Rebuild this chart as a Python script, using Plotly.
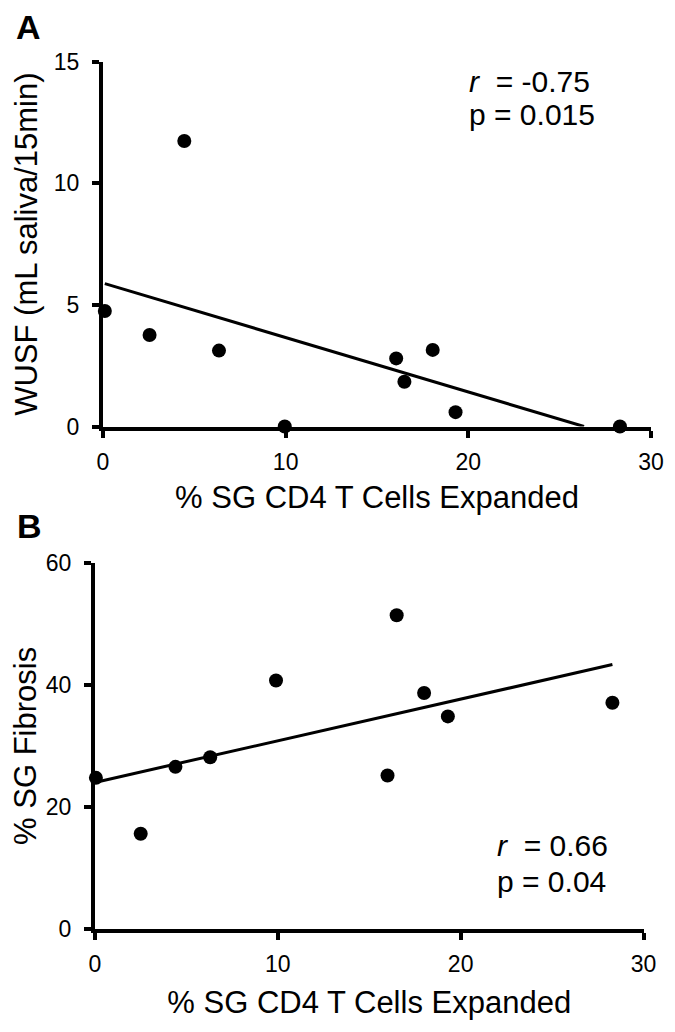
import numpy as np
import plotly.graph_objects as go

# ---------------- data ----------------
cd4_a = [0.1, 2.55, 4.45, 6.35, 9.95, 16.05, 16.5, 18.05, 19.3, 28.3]
wusf = [4.75, 3.76, 11.74, 3.12, 0.0, 2.8, 1.84, 3.15, 0.59, 0.0]

cd4_b = [0.05, 2.5, 4.4, 6.3, 9.9, 16.0, 16.5, 18.0, 19.3, 28.3]
fibrosis = [24.75, 15.57, 26.56, 28.13, 40.75, 25.13, 51.47, 38.69, 34.85, 37.1]

x_ticks = [0, 10, 20, 30]
y_ticks_a = [0, 5, 10, 15]
y_ticks_b = [0, 20, 40, 60]

stats_a = ["<i>r</i>\u00a0\u00a0= -0.75", "p = 0.015"]
stats_b = ["<i>r</i>\u00a0\u00a0= 0.66", "p = 0.04"]

x_title = "% SG CD4 T Cells Expanded"
y_title_a = "WUSF (mL saliva/15min)"
y_title_b = "% SG Fibrosis"

# ---------------- layout ----------------
# the page body has an 8px margin, so the figure is 16px smaller than the window
PAGE_W, PAGE_H = 675, 1032
BODY = 8
W, H = PAGE_W - 2 * BODY, PAGE_H - 2 * BODY
FONT = "Liberation Sans, Arial, sans-serif"


def xdom(left, right):
    return [(left - BODY) / W, (right - BODY) / W]


def ydom(top, bottom):
    return [1 - (bottom - BODY) / H, 1 - (top - BODY) / H]


def px(xp):
    return (xp - BODY) / W


def py(yp):
    return 1 - (yp - BODY) / H


# ---------------- regression lines ----------------
def fit_line(x, y, ymin):
    x = np.asarray(x, float)
    y = np.asarray(y, float)
    m, b = np.polyfit(x, y, 1)
    x0 = x.min()
    x1 = x.max()
    if m < 0:
        x1 = min(x1, (ymin - b) / m)
    xs = np.array([x0, x1])
    return xs, m * xs + b


la_x, la_y = fit_line(cd4_a, wusf, 0)
lb_x, lb_y = fit_line(cd4_b, fibrosis, 0)

fig = go.Figure()

fig.add_trace(go.Scatter(x=la_x, y=la_y, mode="lines",
                         line=dict(color="black", width=3),
                         xaxis="x", yaxis="y", cliponaxis=False, showlegend=False))
fig.add_trace(go.Scatter(x=cd4_a, y=wusf, mode="markers",
                         marker=dict(color="black", size=14, line=dict(width=0)),
                         xaxis="x", yaxis="y", cliponaxis=False, showlegend=False))
fig.add_trace(go.Scatter(x=lb_x, y=lb_y, mode="lines",
                         line=dict(color="black", width=3),
                         xaxis="x2", yaxis="y2", cliponaxis=False, showlegend=False))
fig.add_trace(go.Scatter(x=cd4_b, y=fibrosis, mode="markers",
                         marker=dict(color="black", size=14, line=dict(width=0)),
                         xaxis="x2", yaxis="y2", cliponaxis=False, showlegend=False))

axis_common = dict(
    showline=True, linecolor="black", linewidth=4,
    ticks="outside", ticklen=7, tickwidth=3.5, tickcolor="black",
    showgrid=False, zeroline=False, automargin=False,
    tickfont=dict(family=FONT, size=23, color="black"),
    title_font=dict(family=FONT, size=31, color="black"),
)

fig.update_layout(
    width=W, height=H,
    margin=dict(l=0, r=0, t=0, b=0, pad=0, autoexpand=False),
    paper_bgcolor="white", plot_bgcolor="white",
    showlegend=False,
    xaxis=dict(axis_common, domain=xdom(103, 651), range=[0, 30],
               tickvals=x_ticks, anchor="y", ticklabelstandoff=5,
               title=dict(text=x_title, standoff=13)),
    yaxis=dict(axis_common, domain=ydom(61.7, 426.5), range=[0, 15],
               tickvals=y_ticks_a, anchor="x", ticklabelstandoff=8,
               title=dict(text=y_title_a, standoff=8)),
    xaxis2=dict(axis_common, domain=xdom(95, 643.5), range=[0, 30],
                tickvals=x_ticks, anchor="y2", ticklabelstandoff=5,
                title=dict(text=x_title, standoff=16)),
    yaxis2=dict(axis_common, domain=ydom(563.3, 928.5), range=[0, 60],
                tickvals=y_ticks_b, anchor="x2", ticklabelstandoff=8,
                title=dict(text=y_title_b, standoff=8)),
)

ann_font = dict(family=FONT, size=30, color="black")
annotations = [
    dict(text="<b>A</b>", xref="paper", yref="paper", x=px(14), y=py(27),
         xanchor="left", yanchor="middle", showarrow=False,
         font=dict(family=FONT, size=34, color="black")),
    dict(text="<b>B</b>", xref="paper", yref="paper", x=px(15), y=py(525.5),
         xanchor="left", yanchor="middle", showarrow=False,
         font=dict(family=FONT, size=34, color="black")),
    dict(text=stats_a[0], xref="x", yref="y", x=19.9, y=14.2,
         xanchor="left", yanchor="middle", showarrow=False, font=ann_font),
    dict(text=stats_a[1], xref="x", yref="y", x=19.9, y=12.83,
         xanchor="left", yanchor="middle", showarrow=False, font=ann_font),
    dict(text=stats_b[0], xref="x2", yref="y2", x=21.9, y=13.69,
         xanchor="left", yanchor="middle", showarrow=False, font=ann_font),
    dict(text=stats_b[1], xref="x2", yref="y2", x=21.9, y=7.79,
         xanchor="left", yanchor="middle", showarrow=False, font=ann_font),
]
fig.update_layout(annotations=annotations)

fig.write_html("out.html")
